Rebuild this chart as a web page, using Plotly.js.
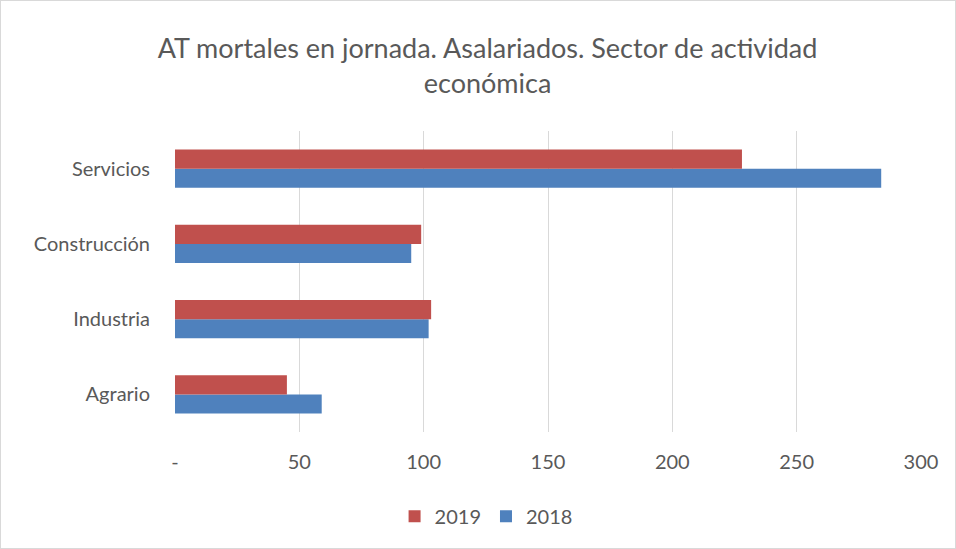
<!DOCTYPE html>
<html>
<head>
<meta charset="utf-8">
<script src="https://cdn.plot.ly/plotly-3.0.1.min.js"></script>
<style>
  body { margin: 0; background: #fff; }
  #grafico { width: 956px; height: 549px; box-sizing: border-box; border: 1px solid #d9d9d9; }
</style>
</head>
<body>
<div id="grafico"></div>
<script>
const sectores = ['Agrario', 'Industria', 'Construcción', 'Servicios'];
const valores2018 = [59, 102, 95, 284];
const valores2019 = [45, 103, 99, 228];
const ticksX = [0, 50, 100, 150, 200, 250, 300];
const etiquetasX = ['-', '50', '100', '150', '200', '250', '300'];

const gris = '#595959';
const fuente = 'Lato, "Open Sans", sans-serif';

const data = [
    {
        y: sectores,
        x: valores2018,
        type: 'bar',
        orientation: 'h',
        name: '2018',
        marker: { color: '#4F81BD' }
    },
    {
        y: sectores,
        x: valores2019,
        type: 'bar',
        orientation: 'h',
        name: '2019',
        marker: { color: '#C0504D' }
    }
];

const layout = {
    width: 954,
    height: 547,
    margin: { l: 174, r: 34, t: 130, b: 116 },
    paper_bgcolor: '#fff',
    plot_bgcolor: '#fff',
    font: { family: fuente, color: gris, size: 20 },
    title: {
        text: 'AT mortales en jornada. Asalariados. Sector de actividad<br>económica',
        font: { family: fuente, size: 27, color: gris },
        x: 0.51,
        xanchor: 'center',
        y: 0.896,
        yanchor: 'middle'
    },
    barmode: 'group',
    bargap: 0.49,
    bargroupgap: 0,
    xaxis: {
        range: [0, 300],
        tickvals: ticksX,
        ticktext: etiquetasX,
        showgrid: true,
        gridcolor: '#d9d9d9',
        gridwidth: 1,
        zeroline: false,
        showline: false,
        ticks: 'outside',
        ticklen: 12,
        tickcolor: 'rgba(0,0,0,0)',
        tickfont: { size: 20, color: gris },
        fixedrange: true
    },
    yaxis: {
        type: 'category',
        showgrid: false,
        zeroline: false,
        showline: false,
        ticks: 'outside',
        ticklen: 20,
        tickcolor: 'rgba(0,0,0,0)',
        tickfont: { size: 20, color: gris },
        fixedrange: true
    },
    showlegend: true,
    legend: {
        orientation: 'h',
        traceorder: 'reversed',
        x: 0.417,
        xanchor: 'center',
        y: -0.28,
        yanchor: 'middle',
        font: { size: 20, color: gris },
        itemwidth: 30
    }
};

Plotly.newPlot('grafico', data, layout, { displayModeBar: false, staticPlot: true });
</script>
</body>
</html>
